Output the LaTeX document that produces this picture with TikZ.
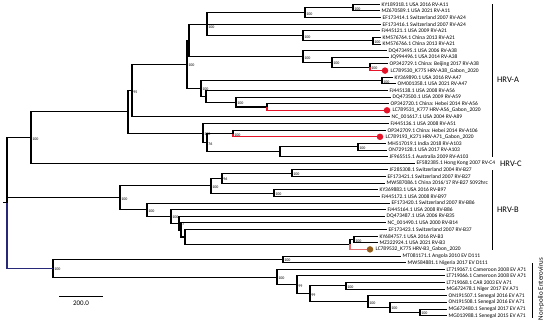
\documentclass[tikz,border=0pt]{standalone}
\usepackage{fontspec}
\setmainfont{Carlito}
\definecolor{brred}{RGB}{230,20,40}
\definecolor{brpink}{RGB}{225,110,110}
\definecolor{dotbrown}{RGB}{150,95,25}
\definecolor{rootblue}{RGB}{40,40,120}
\newcommand{\mkleaf}[4]{\coordinate (#1) at (#2,#3);\node[lbl] (t#1) at (#1) {#4};}
\newcommand{\mkleafd}[4]{\coordinate (#1) at (#2,#3);\node[lbl,xshift=3.8pt] (t#1) at (#1) {#4};}
\begin{document}
\begin{tikzpicture}[x=1pt,y=-1pt,
  br/.style={line width=1.1pt},
  lbl/.style={anchor=west,inner sep=0pt,xshift=1.5pt,font=\fontsize{5.5}{5.5}\selectfont},
  bs/.style={anchor=west,inner sep=0.3pt,xshift=0.8pt,yshift=-1.3pt,font=\fontsize{4}{4}\selectfont},
  reddot/.style={circle,fill=brred,inner sep=0pt,minimum size=6.5pt},
  browndot/.style={circle,fill=dotbrown,inner sep=0pt,minimum size=6.5pt},
  clade/.style={anchor=west,inner sep=0pt,font=\fontsize{8.5}{8.5}\selectfont},
  brk/.style={line width=0.6pt}]
\useasboundingbox (0,0) rectangle (550,322);
% leaves
\mkleaf{L0}{380}{4.3}{KY189318.1 USA 2016 RV-A11}
\mkleaf{L1}{380}{10.9}{MZ670589.1 USA 2021 RV-A11}
\mkleaf{L2}{381}{17.6}{EF173414.1 Switzerland 2007 RV-A24}
\mkleaf{L3}{381}{24.2}{EF173416.1 Switzerland 2007 RV-A24}
\mkleaf{L4}{380}{30.8}{FJ445121.1 USA 2009 RV-A21}
\mkleaf{L5}{381}{37.4}{KM576764.1 China 2013 RV-A21}
\mkleaf{L6}{381}{44.1}{KM576766.1 China 2013 RV-A21}
\mkleaf{L7}{387}{50.7}{DQ473495.1 USA 2006 RV-A38}
\mkleaf{L8}{389}{57.3}{JQ994496.1 USA 2014 RV-A38}
\mkleaf{L9}{388}{63.9}{OP342729.1 China: Beijing 2017 RV-A38}
\mkleafd{L10}{385}{70.6}{LC789530\_K775 HRV-A38\_Gabon\_2020}
\mkleaf{L11}{393}{77.2}{KY369890.1 USA 2016 RV-A47}
\mkleaf{L12}{396}{83.8}{OM001358.1 USA 2021 RV-A47}
\mkleaf{L13}{388}{90.4}{FJ445138.1 USA 2008 RV-A56}
\mkleaf{L14}{391}{97.1}{DQ473500.1 USA 2009 RV-A59}
\mkleaf{L15}{389}{103.7}{OP342720.1 China: Hebei 2014 RV-A56}
\mkleafd{L16}{387}{110.3}{LC789531\_K777 HRV-A56\_Gabon\_2020}
\mkleaf{L17}{390}{116.9}{NC\_001617.1 USA 2004 RV-A89}
\mkleaf{L18}{389}{123.6}{FJ445136.1 USA 2008 RV-A51}
\mkleaf{L19}{386}{130.2}{OP342709.1 China: Hebei 2014 RV-A106}
\mkleafd{L20}{380}{136.8}{LC789193\_K271 HRV-A71\_Gabon\_2020}
\mkleaf{L21}{386}{143.4}{MH517019.1 India 2018 RV-A103}
\mkleaf{L22}{387}{150.1}{ON729128.1 USA 2017 RV-A103}
\mkleaf{L23}{388}{156.7}{JF965515.1 Australia 2009 RV-A103}
\mkleaf{L24}{415}{163.3}{EF582385.1 Hong Kong 2007 RV-C4}
\mkleaf{L25}{388}{169.9}{JF285308.1 Switzerland 2004 RV-B27}
\mkleaf{L26}{386}{176.6}{EF173421.1 Switzerland 2007 RV-B27}
\mkleaf{L27}{385}{183.2}{MW587086.1 China 2016/17 RV-B27 5092hrc}
\mkleaf{L28}{378}{189.8}{KY369883.1 USA 2016 RV-B97}
\mkleaf{L29}{380}{196.4}{FJ445172.1 USA 2008 RV-B97}
\mkleaf{L30}{390}{203.1}{EF173420.1 Switzerland 2007 RV-B86}
\mkleaf{L31}{386}{209.7}{FJ445164.1 USA 2008 RV-B86}
\mkleaf{L32}{385}{216.3}{DQ473487.1 USA 2006 RV-B35}
\mkleaf{L33}{386}{222.9}{NC\_001490.1 USA 2000 RV-B14}
\mkleaf{L34}{387}{229.6}{EF173423.1 Switzerland 2007 RV-B37}
\mkleaf{L35}{378}{236.2}{KY684757.1 USA 2016 RV-B3}
\mkleaf{L36}{378}{242.8}{MZ322924.1 USA 2021 RV-B3}
\mkleafd{L37}{370}{249.4}{LC789532\_K775 HRV-B3\_Gabon\_2020}
\mkleaf{L38}{401}{256.1}{MT081171.1 Angola 2010 EV D111}
\mkleaf{L39}{406}{262.7}{MW584881.1 Nigeria 2017 EV D111}
\mkleaf{L40}{445}{269.3}{LT719067.1 Cameroon 2008 EV A71}
\mkleaf{L41}{445}{275.9}{LT719066.1 Cameroon 2008 EV A71}
\mkleaf{L42}{445}{282.6}{LT719068.1 CAR 2003 EV A71}
\mkleaf{L43}{445}{289.2}{MG672478.1 Niger 2017 EV A71}
\mkleaf{L44}{447}{295.8}{ON191507.1 Senegal 2016 EV A71}
\mkleaf{L45}{447}{302.4}{ON191508.1 Senegal 2016 EV A71}
\mkleaf{L46}{447}{309.1}{MG672480.1 Senegal 2017 EV A71}
\mkleaf{L47}{447}{315.7}{MG013988.1 Senegal 2015 EV A71}
% internal nodes
\coordinate (a1) at (353,7.6);
\coordinate (a2) at (305,12.6);
\coordinate (a4) at (373,40.75);
\coordinate (a3) at (303,35.8);
\coordinate (a5) at (207,24.2);
\coordinate (d3) at (370,67.25);
\coordinate (d2) at (332,62.3);
\coordinate (d1) at (303,56.5);
\coordinate (a6) at (189,40.35);
\coordinate (f1) at (382,80.5);
\coordinate (e4) at (267,107);
\coordinate (e3) at (236,102.05);
\coordinate (e2) at (206,96.2);
\coordinate (e1) at (201,88.35);
\coordinate (n187) at (187,64.35);
\coordinate (n95) at (132,90.6);
\coordinate (c3) at (233,133.5);
\coordinate (bp) at (358,146.75);
\coordinate (b0) at (280,151.7);
\coordinate (c2) at (207,142.6);
\coordinate (c1) at (203,133.1);
\coordinate (nA) at (128,111.85);
\coordinate (n31) at (31,137.6);
\coordinate (g4) at (292,173.25);
\coordinate (g2) at (222,178.2);
\coordinate (g3) at (274,193.1);
\coordinate (g1) at (211,185.65);
\coordinate (k2) at (354,239.5);
\coordinate (k1) at (350,244.45);
\coordinate (h5) at (185,237.0);
\coordinate (h4) at (181,229.95);
\coordinate (h3) at (179,223.1);
\coordinate (h2) at (171,216.4);
\coordinate (h1) at (147,209.75);
\coordinate (hB) at (120,197.7);
\coordinate (dD) at (283,259.4);
\coordinate (m7) at (420,312.4);
\coordinate (m6) at (390,307.4);
\coordinate (m5) at (368,301.6);
\coordinate (m4) at (346,285.9);
\coordinate (m3) at (310,293.75);
\coordinate (m2) at (297,284.8);
\coordinate (m1) at (277,277.05);
\coordinate (ev) at (53,268.2);
\coordinate (R) at (7,202.9);
\coordinate (R0) at (3,202.9);
% edges
\foreach \p/\c in {a1/L0,a1/L1,a2/a1,a2/L2,a4/L5,a4/L6,a3/L4,a3/a4,a5/a2,a5/L3,a5/a3,
  d3/L9,d2/L8,d2/d3,d1/L7,d1/d2,a6/a5,a6/d1,f1/L11,f1/L12,e4/L15,e3/L14,e3/e4,e2/L13,e2/e3,
  e1/f1,e1/e2,n187/a6,n187/e1,n95/n187,n95/L17,c3/L19,bp/L21,bp/L22,b0/bp,b0/L23,c2/c3,c2/b0,
  c1/L18,c1/c2,nA/n95,nA/c1,n31/nA,n31/L24,
  hB/g1,hB/h1,g1/g2,g1/g3,g2/g4,g2/L27,g4/L25,g4/L26,g3/L28,g3/L29,h1/L30,h1/h2,h2/L31,h2/h3,
  h3/L32,h3/h4,h4/L33,h4/h5,h5/L34,h5/k1,k1/k2,k2/L35,k2/L36,
  ev/dD,ev/m1,dD/L38,dD/L39,m1/L40,m1/m2,m2/L41,m2/m3,m3/m4,m3/m5,m4/L42,m4/L43,m5/L44,m5/m6,
  m6/L45,m6/m7,m7/L46,m7/L47,R/n31,R/hB}
  \draw[br] (\p) |- (\c);
\draw[br,brred] (d3) |- (L10);
\draw[br,brred] (e4) |- (L16);
\draw[br,brred] (c3) |- (L20);
\draw[br,brpink] (k1) |- (L37);
\draw[br,rootblue] (R) |- (ev);
\draw[br] (R0) -- (R);
\node[reddot] (dot10) at (L10) {};
\node[reddot] (dot16) at (L16) {};
\node[reddot] (dot20) at (L20) {};
\node[browndot] (dot37) at (L37) {};
% support values
\foreach \n/\v in {a1/100,a2/100,a3/100,a4/100,d1/100,d2/100,d3/100,f1/100,e1/100,e3/100,
  n187/100,n95/95,c1/100,c2/76,c3/100,bp/100,n31/100,hB/100,g1/100,g2/96,g4/100,g3/100,
  h1/100,h2/100,h3/97,k2/100,dD/100,ev/100,m1/100,m2/99,m3/99,m4/100,m5/100,m6/100,m7/100}
  \node[bs] (s\n) at (\n) {\v};
\node[bs,yshift=-2pt] (sa5) at (a5) {100};
% clade annotations
\coordinate (ba1) at (492,4);
\coordinate (ba2) at (492,157);
\draw[brk] (ba1) -- (ba2);
\node[clade] (cA) at (497,80) {HRV-A};
\node[clade] (cC) at (500,163.3) {HRV-C};
\coordinate (bb1) at (492,170);
\coordinate (bb2) at (492,250);
\draw[brk] (bb1) -- (bb2);
\node[clade] (cB) at (497,210) {HRV-B};
\coordinate (be1) at (532,263);
\coordinate (be2) at (532,318);
\draw[brk] (be1) -- (be2);
\node[rotate=90,inner sep=0pt,font=\fontsize{7}{7}\selectfont] (cE) at (541,289) {Non-polio Enterovirus};
% scale bar
\coordinate (sb1) at (59,296);
\coordinate (sb2) at (103,296);
\draw[line width=0.6pt] (sb1) -- (sb2);
\node[inner sep=0pt,font=\fontsize{7}{7}\selectfont] (sbl) at (81,303) {200.0};
\end{tikzpicture}
\end{document}
